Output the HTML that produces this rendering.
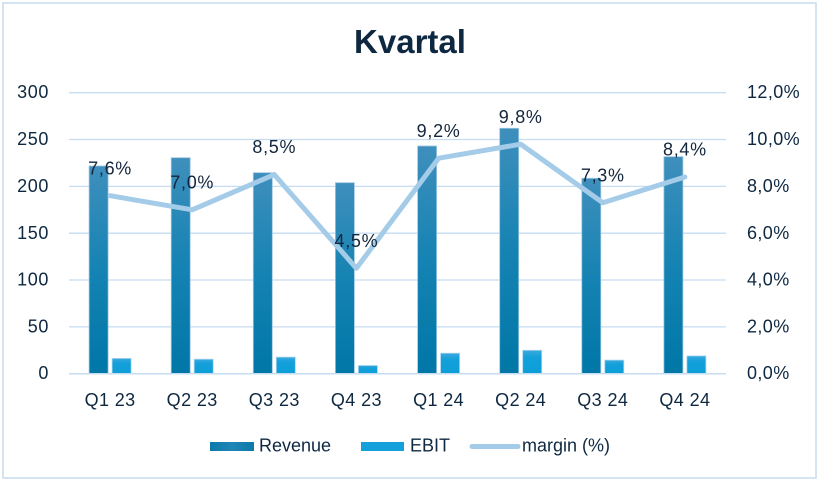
<!DOCTYPE html>
<html>
<head>
<meta charset="utf-8">
<style>
  html,body{margin:0;padding:0;background:#fff;}
  body{width:820px;height:483px;overflow:hidden;}
  svg{display:block;}
  text{font-family:"Liberation Sans",Arial,sans-serif;}
</style>
</head>
<body>
<svg width="820" height="483" viewBox="0 0 820 483" xmlns="http://www.w3.org/2000/svg">
  <defs>
    <linearGradient id="rev" x1="0" y1="0" x2="0" y2="1">
      <stop offset="0" stop-color="#3f8fbc"/>
      <stop offset="0.5" stop-color="#1583b3"/>
      <stop offset="1" stop-color="#0077a7"/>
    </linearGradient>
    <linearGradient id="ebit" x1="0" y1="0" x2="0" y2="1">
      <stop offset="0" stop-color="#3ba9de"/>
      <stop offset="0.3" stop-color="#14a0da"/>
      <stop offset="1" stop-color="#0c9ed8"/>
    </linearGradient>
    <linearGradient id="revL" x1="0" y1="0" x2="1" y2="0">
      <stop offset="0" stop-color="#0b7aa9"/>
      <stop offset="0.5" stop-color="#1f86b6"/>
      <stop offset="1" stop-color="#0b7aa9"/>
    </linearGradient>
  </defs>
  <rect x="0" y="0" width="820" height="483" fill="#ffffff"/>
  <rect x="3" y="3" width="813" height="475" fill="#ffffff" stroke="#c9ddf0" stroke-width="1.6"/>

  <!-- title -->
  <text x="410" y="53" text-anchor="middle" font-size="33" font-weight="bold" fill="#0e2841">Kvartal</text>

  <!-- gridlines -->
  <g stroke="#c6dcf0" stroke-width="1.3">
    <line x1="69" y1="92.7" x2="726" y2="92.7"/>
    <line x1="69" y1="139.5" x2="726" y2="139.5"/>
    <line x1="69" y1="186.4" x2="726" y2="186.4"/>
    <line x1="69" y1="233.2" x2="726" y2="233.2"/>
    <line x1="69" y1="280.0" x2="726" y2="280.0"/>
    <line x1="69" y1="326.9" x2="726" y2="326.9"/>
  </g>

  <!-- left axis labels -->
  <g font-size="18" fill="#0e2841" text-anchor="end" letter-spacing="0.6">
    <text x="49" y="98">300</text>
    <text x="49" y="145">250</text>
    <text x="49" y="192">200</text>
    <text x="49" y="239">150</text>
    <text x="49" y="285.5">100</text>
    <text x="49" y="332.5">50</text>
    <text x="49" y="379">0</text>
  </g>
  <!-- right axis labels -->
  <g font-size="18" fill="#0e2841" letter-spacing="0.4">
    <text x="747" y="98">12,0%</text>
    <text x="747" y="145">10,0%</text>
    <text x="747" y="192">8,0%</text>
    <text x="747" y="239">6,0%</text>
    <text x="747" y="285.5">4,0%</text>
    <text x="747" y="332.5">2,0%</text>
    <text x="747" y="379">0,0%</text>
  </g>

  <!-- revenue bars -->
  <g fill="url(#rev)" stroke="#9cc6e2" stroke-width="0.8">
    <rect x="89.1" y="166.0" width="19" height="207.7"/>
    <rect x="171.2" y="157.7" width="19" height="216.0"/>
    <rect x="253.3" y="172.7" width="19" height="201.0"/>
    <rect x="335.4" y="182.7" width="19" height="191.0"/>
    <rect x="417.6" y="146.0" width="19" height="227.7"/>
    <rect x="499.7" y="128.3" width="19" height="245.4"/>
    <rect x="581.8" y="178.3" width="19" height="195.4"/>
    <rect x="663.9" y="156.7" width="19" height="217.0"/>
  </g>
  <!-- ebit bars -->
  <g fill="url(#ebit)" stroke="#a8d4ee" stroke-width="0.8">
    <rect x="112.1" y="358.4" width="19" height="15.3"/>
    <rect x="194.2" y="359.2" width="19" height="14.5"/>
    <rect x="276.3" y="357.1" width="19" height="16.6"/>
    <rect x="358.4" y="365.5" width="19" height="8.2"/>
    <rect x="440.6" y="353.2" width="19" height="20.5"/>
    <rect x="522.7" y="350.3" width="19" height="23.4"/>
    <rect x="604.8" y="360.1" width="19" height="13.6"/>
    <rect x="686.9" y="355.9" width="19" height="17.8"/>
  </g>

  <!-- x axis -->
  <line x1="69" y1="373.7" x2="726" y2="373.7" stroke="#c6dcf0" stroke-width="1.5"/>

  <!-- margin line -->
  <polyline points="110.1,195.7 192.2,209.8 274.3,174.6 356.4,268.3 438.6,158.2 520.7,144.2 602.8,202.7 684.9,177.0"
    fill="none" stroke="#a4cbe8" stroke-width="5" stroke-linejoin="round" stroke-linecap="round"/>

  <!-- data labels -->
  <g font-size="18" fill="#13263b" text-anchor="middle" letter-spacing="0.7">
    <text x="110.1" y="174.3">7,6%</text>
    <text x="192.2" y="188.4">7,0%</text>
    <text x="274.3" y="153.2">8,5%</text>
    <text x="356.4" y="246.9">4,5%</text>
    <text x="438.6" y="136.8">9,2%</text>
    <text x="520.7" y="122.8">9,8%</text>
    <text x="602.8" y="181.3">7,3%</text>
    <text x="684.9" y="155.6">8,4%</text>
  </g>

  <!-- x labels -->
  <g font-size="18" fill="#0e2841" text-anchor="middle" letter-spacing="0.4">
    <text x="110.1" y="406">Q1 23</text>
    <text x="192.2" y="406">Q2 23</text>
    <text x="274.3" y="406">Q3 23</text>
    <text x="356.4" y="406">Q4 23</text>
    <text x="438.6" y="406">Q1 24</text>
    <text x="520.7" y="406">Q2 24</text>
    <text x="602.8" y="406">Q3 24</text>
    <text x="684.9" y="406">Q4 24</text>
  </g>

  <!-- legend -->
  <rect x="210" y="442" width="44" height="9" fill="url(#revL)"/>
  <text x="259" y="451.5" font-size="18" fill="#0e2841">Revenue</text>
  <rect x="361" y="442" width="43" height="9" fill="#14a0da"/>
  <text x="410" y="451.5" font-size="18" fill="#0e2841">EBIT</text>
  <line x1="472" y1="446.5" x2="518" y2="446.5" stroke="#a4cbe8" stroke-width="5" stroke-linecap="round"/>
  <text x="522" y="451.5" font-size="18" fill="#0e2841">margin (%)</text>
</svg>
</body>
</html>
